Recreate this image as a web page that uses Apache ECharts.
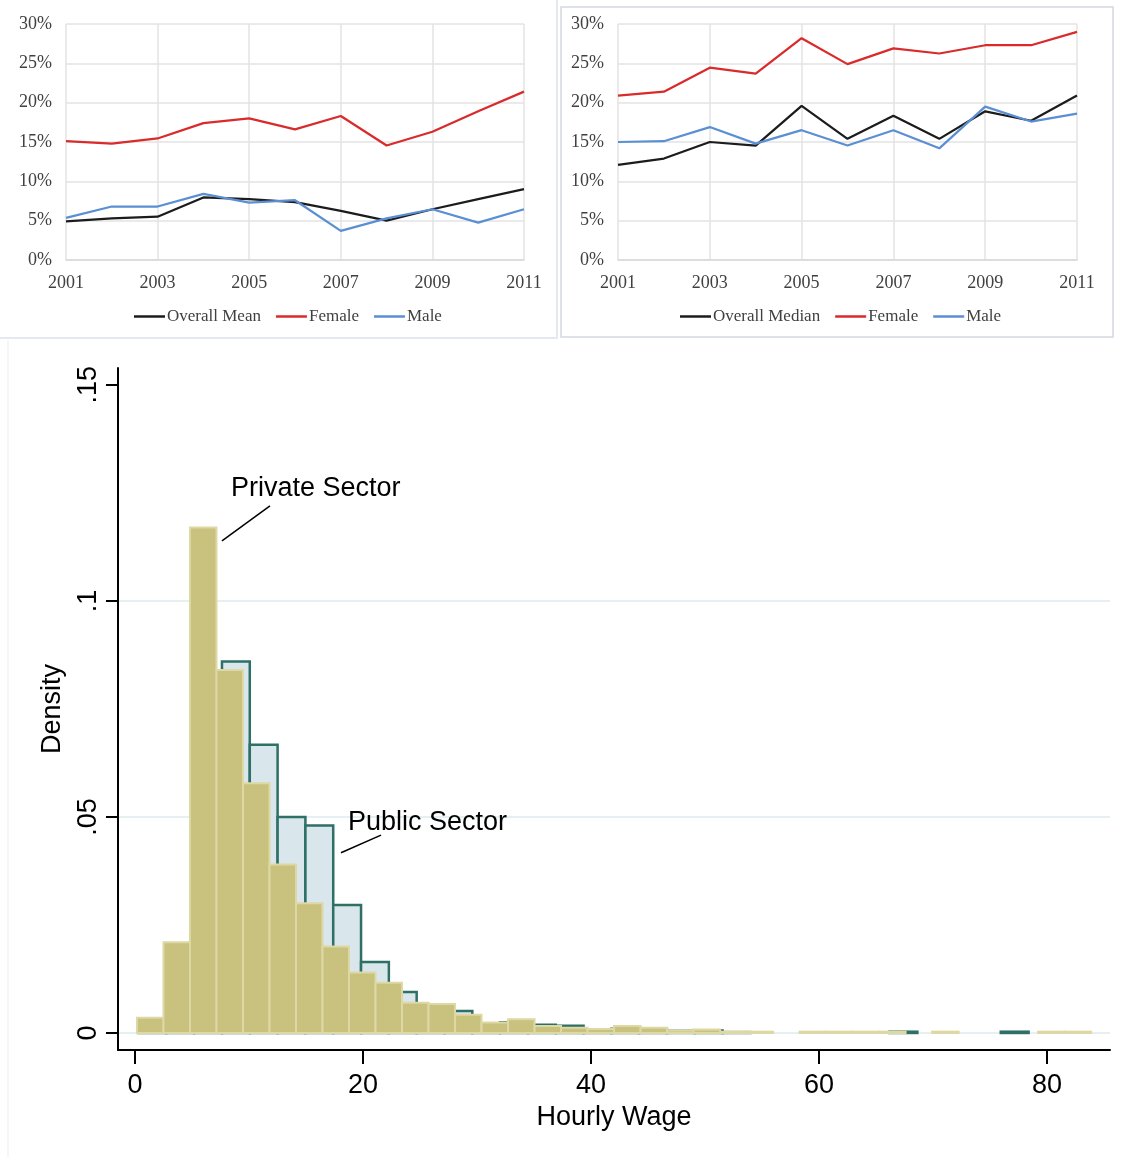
<!DOCTYPE html>
<html>
<head>
<meta charset="utf-8">
<script src="https://cdn.jsdelivr.net/npm/echarts@6/dist/echarts.min.js"></script>
<style>
  html, body { margin: 0; padding: 0; background: #fff; }
  #main { width: 1130px; height: 1157px; }
</style>
</head>
<body>
<div id="main"></div>
<script>
// top charts: share of workers (%), 2001-2011
var years = ['2001', '2002', '2003', '2004', '2005', '2006', '2007', '2008', '2009', '2010', '2011'];
var meanOverall = [4.9, 5.3, 5.5, 7.95, 7.75, 7.35, 6.25, 5.0, 6.45, 7.75, 9.0];
var meanFemale = [15.1, 14.8, 15.45, 17.4, 18.0, 16.6, 18.3, 14.55, 16.3, 18.9, 21.4];
var meanMale = [5.35, 6.8, 6.8, 8.4, 7.3, 7.6, 3.7, 5.3, 6.45, 4.75, 6.45];
var medianOverall = [12.1, 12.9, 15.0, 14.55, 19.6, 15.4, 18.35, 15.4, 18.9, 17.7, 20.9];
var medianFemale = [20.9, 21.4, 24.45, 23.7, 28.2, 24.9, 26.9, 26.25, 27.3, 27.3, 29.0];
var medianMale = [15.0, 15.1, 16.9, 14.8, 16.5, 14.55, 16.5, 14.2, 19.5, 17.6, 18.6];

// bottom chart: hourly wage histograms (density)
var privateFirstEdge = 0.175, privateBinWidth = 2.325;
var privateDensity = [0.0035, 0.021, 0.117, 0.084, 0.0578, 0.039, 0.030, 0.020, 0.014, 0.0116,
  0.007, 0.0067, 0.0042, 0.0024, 0.0032, 0.0016, 0.0012, 0.0009, 0.0016, 0.0012,
  0.0006, 0.0008, 0.0003, 0.0003, 0, 0.0003, 0.0003, 0.0003, 0.0003, 0,
  0.0003, 0, 0, 0, 0.0003, 0.0003];
var publicFirstEdge = 0.31, publicBinWidth = 2.44;
var publicDensity = [0.002, 0.015, 0.075, 0.086, 0.0667, 0.050, 0.048, 0.0296, 0.0164, 0.0095,
  0.006, 0.0051, 0.0022, 0.0025, 0.0019, 0.0017, 0.0008, 0.001, 0.0008, 0.0005,
  0.0006, 0.0002, 0, 0, 0, 0, 0, 0.0003, 0, 0,
  0, 0.0003, 0, 0];
var wageTicks = [0, 20, 40, 60, 80];
var densityTicks = [0, 0.05, 0.1, 0.15];

// labels pointing at the two histograms, in data units
var noteText = ['Private Sector', 'Public Sector'];
var noteLineFrom = [[7.63, 0.1139], [18.07, 0.0417]];
var noteLineTo = [[11.84, 0.1220], [21.58, 0.0458]];
var noteAt = [[8.42, 0.1259], [18.68, 0.0486]];

function bins(first, width, dens) {
  var out = [];
  for (var i = 0; i < dens.length; i++) {
    out.push([first + i * width, first + (i + 1) * width, dens[i]]);
  }
  return out;
}

function histItem(fill, stroke, lw) {
  return function (params, api) {
    var d = api.value(2);
    if (!d) return null;
    var p0 = api.coord([api.value(0), d]);
    var p1 = api.coord([api.value(1), 0]);
    return {
      type: 'rect',
      shape: { x: p0[0], y: p0[1], width: p1[0] - p0[0], height: p1[1] - p0[1] },
      style: { fill: fill, stroke: stroke, lineWidth: lw }
    };
  };
}

var serif = 'Liberation Serif';
var sans = 'Liberation Sans';
var txt = '#404040';
var cBlack = '#1c1c1c', cRed = '#d92b2b', cBlue = '#5b8fd3';

function topX(gi) {
  return {
    type: 'category', gridIndex: gi, data: years, boundaryGap: false,
    axisLine: { lineStyle: { color: '#d9d9d9', width: 1.5 } },
    axisTick: { show: false },
    axisLabel: { interval: 1, margin: 14, fontFamily: serif, fontSize: 18, color: txt },
    splitLine: { show: true, interval: 1, lineStyle: { color: '#e3e3e3', width: 1.5 } }
  };
}
function topY(gi) {
  return {
    type: 'value', gridIndex: gi, min: 0, max: 30, interval: 5,
    axisLine: { show: false }, axisTick: { show: false },
    axisLabel: { formatter: '{value}%', margin: 14, fontFamily: serif, fontSize: 18, color: txt,
                 padding: [4, 0, 0, 0] },
    splitLine: { lineStyle: { color: '#e3e3e3', width: 1.5 } }
  };
}
function line(name, data, color, gi) {
  return {
    name: name, type: 'line', data: data, xAxisIndex: gi, yAxisIndex: gi,
    symbol: 'none', lineStyle: { color: color, width: 2.25 }, itemStyle: { color: color }
  };
}
function legend(left, names) {
  return {
    left: left, top: 303, icon: 'rect', itemWidth: 31, itemHeight: 2.5, itemGap: 15,
    data: names, textStyle: { fontFamily: serif, fontSize: 17, color: txt, padding: [0, 0, 0, -3] }
  };
}

var option = {
  animation: false,
  backgroundColor: '#fff',
  grid: [
    { left: 66, top: 24, width: 458, height: 236 },
    { left: 618, top: 24, width: 459, height: 236 },
    { left: 118, top: 368, width: 992, height: 682 }
  ],
  legend: [
    legend(129, ['Overall Mean', 'Female', 'Male']),
    legend(675, ['Overall Median', 'Female', 'Male'])
  ],
  xAxis: [
    topX(0), topX(1),
    {
      type: 'value', gridIndex: 2, min: -1.49, max: 85.53,
      name: 'Hourly Wage', nameLocation: 'middle', nameGap: 47,
      nameTextStyle: { fontFamily: sans, fontSize: 27, color: '#000' },
      axisLine: { onZero: false, lineStyle: { color: '#000', width: 2 } },
      axisTick: { customValues: wageTicks, length: 14, lineStyle: { color: '#000', width: 2 } },
      axisLabel: { customValues: wageTicks, margin: 22, fontFamily: sans, fontSize: 27, color: '#000' },
      splitLine: { show: false }
    }
  ],
  yAxis: [
    topY(0), topY(1),
    {
      type: 'value', gridIndex: 2, min: -0.00394, max: 0.1539,
      name: 'Density', nameLocation: 'middle', nameGap: 52,
      nameTextStyle: { fontFamily: sans, fontSize: 27, color: '#000' },
      axisLine: { onZero: false, lineStyle: { color: '#000', width: 2 } },
      axisTick: { customValues: densityTicks, length: 12, lineStyle: { color: '#000', width: 2 } },
      axisLabel: {
        customValues: densityTicks, rotate: 90, margin: 16,
        fontFamily: sans, fontSize: 27, color: '#000',
        formatter: function (v) { return String(v).replace(/^0\./, '.'); }
      },
      splitLine: { show: true, lineStyle: { color: ['#e6eff2', '#e6eff2', '#e6eff2', 'rgba(0,0,0,0)'], width: 2 } }
    }
  ],
  graphic: [
    { type: 'polyline', shape: { points: [[557, 0], [557, 338], [0, 338]] },
      style: { fill: null, stroke: '#e3e9ee', lineWidth: 2 } },
    { type: 'rect', shape: { x: 561, y: 7, width: 552, height: 330 },
      style: { fill: null, stroke: '#d3d9de', lineWidth: 1.5 } },
    { type: 'line', shape: { x1: 8, y1: 341, x2: 8, y2: 1157 },
      style: { stroke: '#eef3f5', lineWidth: 1.5 } }
  ],
  series: [
    line('Overall Mean', meanOverall, cBlack, 0),
    line('Female', meanFemale, cRed, 0),
    line('Male', meanMale, cBlue, 0),
    line('Overall Median', medianOverall, cBlack, 1),
    line('Female', medianFemale, cRed, 1),
    line('Male', medianMale, cBlue, 1),
    {
      name: 'Public Sector', type: 'custom', xAxisIndex: 2, yAxisIndex: 2,
      data: bins(publicFirstEdge, publicBinWidth, publicDensity),
      encode: { x: [0, 1], y: 2 },
      renderItem: histItem('#d9e6eb', '#2e6f66', 2.5)
    },
    {
      name: 'Private Sector', type: 'custom', xAxisIndex: 2, yAxisIndex: 2,
      data: bins(privateFirstEdge, privateBinWidth, privateDensity),
      encode: { x: [0, 1], y: 2 },
      renderItem: histItem('#c9c27f', '#ddd8a4', 2)
    },
    {
      name: 'notes', type: 'custom', xAxisIndex: 2, yAxisIndex: 2,
      data: noteAt, encode: { x: 0, y: 1 }, silent: true,
      renderItem: function (params, api) {
        var i = params.dataIndex;
        var a = api.coord(noteLineFrom[i]), b = api.coord(noteLineTo[i]);
        var t = api.coord(noteAt[i]);
        return {
          type: 'group',
          children: [
            { type: 'line', shape: { x1: a[0], y1: a[1], x2: b[0], y2: b[1] },
              style: { stroke: '#000', lineWidth: 1.5 } },
            { type: 'text', x: t[0], y: t[1],
              style: { text: noteText[i], fill: '#000', font: '27px "Liberation Sans"',
                       textAlign: 'left', textVerticalAlign: 'middle' } }
          ]
        };
      }
    }
  ]
};

var chart = echarts.init(document.getElementById('main'));
chart.setOption(option);
</script>
</body>
</html>
